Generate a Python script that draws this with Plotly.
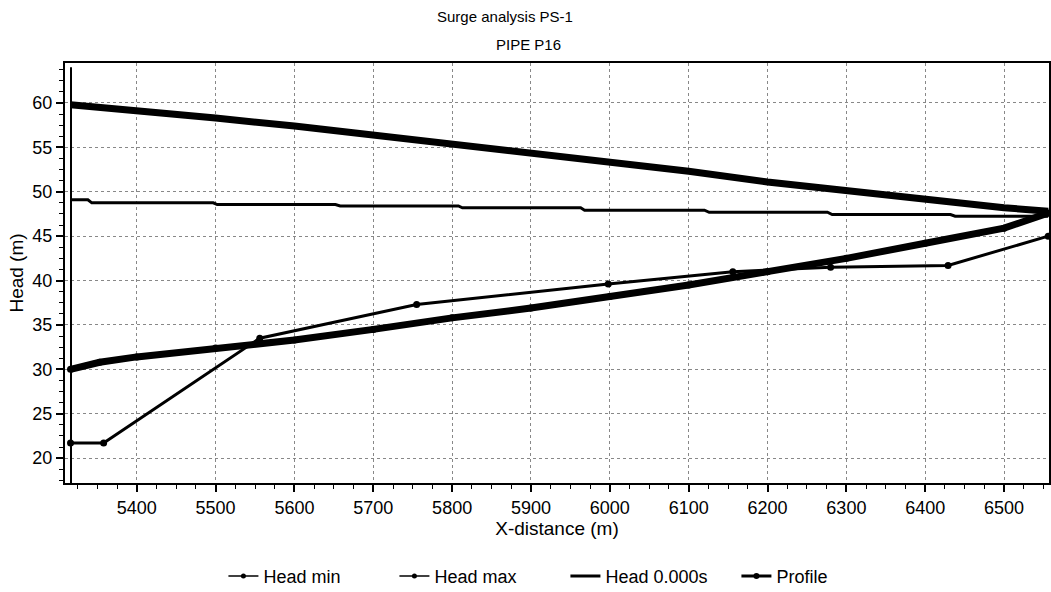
import plotly.graph_objects as go

# ---- data ----
head_max_x = [5316, 5400, 5500, 5600, 5700, 5800, 5900, 6000, 6100, 6200, 6300, 6400, 6500, 6556]
head_max_y = [59.8, 59.2, 58.3, 57.4, 56.4, 55.3, 54.4, 53.3, 52.3, 51.1, 50.1, 49.1, 48.2, 47.8]

head0_x = [5316, 5338, 5343, 5497, 5502, 5652, 5658, 5808, 5813, 5963, 5968, 6120, 6126, 6276, 6282, 6432, 6438, 6556]
head0_y = [49.1, 49.1, 48.75, 48.75, 48.56, 48.56, 48.4, 48.4, 48.19, 48.19, 47.92, 47.92, 47.69, 47.69, 47.43, 47.43, 47.24, 47.24]

profile_x = [5316, 5353, 5400, 5500, 5600, 5700, 5800, 5900, 6000, 6100, 6200, 6300, 6400, 6500, 6556]
profile_y = [30.0, 30.8, 31.4, 32.4, 33.3, 34.5, 35.8, 36.9, 38.2, 39.5, 41.0, 42.5, 44.2, 45.9, 47.6]

head_min_x = [5316, 5358, 5556, 5755, 5998, 6156, 6280, 6429, 6556]
head_min_y = [21.7, 21.7, 33.5, 37.3, 39.6, 41.0, 41.5, 41.7, 45.0]

x_range = [5309, 6557]
y_range = [17.2, 64.5]

FONT = "Liberation Sans, Arial, sans-serif"

fig = go.Figure()

# actual traces (no legend)
fig.add_trace(go.Scatter(x=head0_x, y=head0_y, mode="lines",
                         line=dict(color="black", width=3), showlegend=False))
fig.add_trace(go.Scatter(x=head_max_x, y=head_max_y, mode="lines",
                         line=dict(color="black", width=7), showlegend=False))
fig.add_trace(go.Scatter(x=profile_x, y=profile_y, mode="lines+markers",
                         line=dict(color="black", width=7),
                         marker=dict(color="black", size=7), showlegend=False))
fig.add_trace(go.Scatter(x=head_min_x, y=head_min_y, mode="lines+markers",
                         line=dict(color="black", width=3),
                         marker=dict(color="black", size=7), showlegend=False))

# legend entries
fig.add_trace(go.Scatter(x=[None], y=[None], mode="lines+markers", name="Head min",
                         line=dict(color="black", width=1.5), marker=dict(color="black", size=5)))
fig.add_trace(go.Scatter(x=[None], y=[None], mode="lines+markers", name="Head max",
                         line=dict(color="black", width=1.5), marker=dict(color="black", size=5)))
fig.add_trace(go.Scatter(x=[None], y=[None], mode="lines", name="Head 0.000s",
                         line=dict(color="black", width=3)))
fig.add_trace(go.Scatter(x=[None], y=[None], mode="lines+markers", name="Profile",
                         line=dict(color="black", width=3), marker=dict(color="black", size=6)))

fig.update_layout(
    width=1051, height=592,
    margin=dict(l=65, r=2, t=63, b=109, autoexpand=False),
    paper_bgcolor="white", plot_bgcolor="white",
    font=dict(family=FONT, color="black", size=16),
    legend=dict(orientation="h", x=0.161, y=-0.222, xanchor="left", yanchor="middle",
                font=dict(size=18, color="black"), entrywidth=126, itemwidth=30,
                bgcolor="rgba(0,0,0,0)"),
    annotations=[
        dict(text="Surge analysis PS-1", xref="paper", yref="paper", x=(505 - 65) / 984,
             y=1 + (63 - 17) / 420, showarrow=False, xanchor="center", yanchor="middle",
             font=dict(size=15, color="black", family=FONT)),
        dict(text="PIPE P16", xref="paper", yref="paper", x=(528 - 65) / 984,
             y=1 + (63 - 45) / 420, showarrow=False, xanchor="center", yanchor="middle",
             font=dict(size=15, color="black", family=FONT)),
    ],
    shapes=[
        dict(type="line", xref="paper", yref="paper", x0=6 / 984, x1=6 / 984, y0=0, y1=0.99,
             line=dict(color="black", width=2)),
    ],
)

fig.update_xaxes(
    range=x_range, dtick=100, tick0=5400, automargin=False,
    showline=True, linecolor="black", linewidth=2, mirror=True,
    ticks="outside", ticklen=7, tickwidth=1.5, tickcolor="black",
    showgrid=True, gridcolor="#888", griddash="dot", gridwidth=1,
    minor=dict(dtick=25, ticks="outside", ticklen=4, tickcolor="black", tickwidth=1, showgrid=False),
    tickfont=dict(size=18, color="black"), zeroline=False,
    title=dict(text="X-distance (m)", font=dict(size=19, color="black"), standoff=3),
)
fig.update_yaxes(
    range=y_range, dtick=5, tick0=0, automargin=False,
    showline=True, linecolor="black", linewidth=2, mirror=True,
    ticks="outside", ticklen=7, tickwidth=1.5, tickcolor="black",
    showgrid=True, gridcolor="#888", griddash="dot", gridwidth=1,
    minor=dict(dtick=1.25, ticks="outside", ticklen=4, tickcolor="black", tickwidth=1, showgrid=False),
    tickfont=dict(size=18, color="black"), zeroline=False,
    title=dict(text="Head (m)", font=dict(size=19, color="black"), standoff=4),
)

fig.write_html("out.html", config={"displayModeBar": False},
               post_script="document.body.style.margin='0';")
